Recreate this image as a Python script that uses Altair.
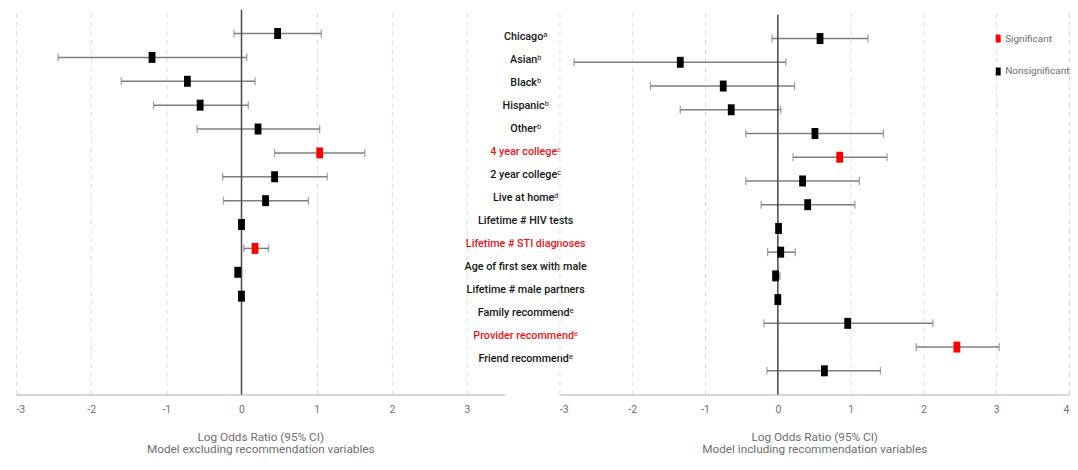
import altair as alt
import pandas as pd

labels = ["Chicagoᵃ", "Asianᵇ", "Blackᵇ", "Hispanicᵇ", "Otherᵇ", "4 year collegeᶜ",
          "2 year collegeᶜ", "Live at homeᵈ", "Lifetime # HIV tests", "Lifetime # STI diagnoses",
          "Age of first sex with male", "Lifetime # male partners", "Family recommendᵉ",
          "Provider recommendᵉ", "Friend recommendᵉ"]
label_sig = [0, 0, 0, 0, 0, 1, 0, 0, 0, 1, 0, 0, 0, 1, 0]

left_est = [0.48, -1.19, -0.72, -0.55, 0.22, 1.04, 0.44, 0.32, 0.00, 0.18, -0.05, 0.00]
left_lo = [-0.10, -2.44, -1.60, -1.17, -0.59, 0.44, -0.25, -0.24, -0.02, 0.03, -0.08, -0.02]
left_hi = [1.06, 0.07, 0.18, 0.09, 1.04, 1.64, 1.14, 0.89, 0.02, 0.36, -0.02, 0.02]
left_sig = [0, 0, 0, 0, 0, 1, 0, 0, 0, 1, 0, 0]

right_est = [0.58, -1.34, -0.75, -0.64, 0.51, 0.85, 0.34, 0.41, 0.01, 0.04, -0.03, 0.00, 0.96, 2.46, 0.64]
right_lo = [-0.08, -2.80, -1.75, -1.34, -0.44, 0.21, -0.44, -0.23, -0.01, -0.14, -0.07, -0.02, -0.19, 1.90, -0.15]
right_hi = [1.24, 0.11, 0.23, 0.04, 1.45, 1.50, 1.12, 1.06, 0.03, 0.24, 0.03, 0.02, 2.13, 3.04, 1.41]
right_sig = [0, 0, 0, 0, 0, 1, 0, 0, 0, 0, 0, 0, 0, 1, 0]

SIGN = ["Significant", "Nonsignificant"]
FONT = "Roboto, Liberation Sans, sans-serif"
GRAY = "#7f7f7f"
TXT = "#6e6e6e"
RECT = "M-0.62,-1L0.62,-1L0.62,1L-0.62,1Z"


def frame(est, lo, hi, sig):
    return pd.DataFrame({
        "row": list(range(1, len(est) + 1)),
        "est": est, "lo": lo, "hi": hi,
        "sig": [SIGN[0] if s else SIGN[1] for s in sig],
    })


df_left = frame(left_est, left_lo, left_hi, left_sig)
df_right = frame(right_est, right_lo, right_hi, right_sig)
df_lab = pd.DataFrame({
    "row": list(range(1, len(labels) + 1)),
    "label": labels,
    "sig": label_sig,
})


def make_color(with_legend):
    if with_legend:
        leg = alt.Legend(title=None, orient="none", legendX=435, legendY=24,
                         symbolType=RECT, symbolSize=64, symbolStrokeWidth=0,
                         symbolOpacity=1, labelFont=FONT, labelFontSize=10,
                         labelColor=TXT, rowPadding=23, labelOffset=2)
    else:
        leg = None
    return alt.Color("sig:N", scale=alt.Scale(domain=SIGN, range=["#ff0000", "#000000"]),
                     legend=leg)


def panel(df, xdom, ydom, title, rule_top, with_legend):
    xax = alt.Axis(values=[v for v in range(-3, 5) if v <= xdom[1]], title=title,
                   grid=True, gridDash=[5, 4], gridColor="#dedede", gridWidth=1,
                   ticks=False, domainColor="#c8c8c8", domainWidth=1.5,
                   labelColor=TXT, labelFont=FONT, labelFontSize=10.5, labelPadding=10,
                   labelExpr="'' + datum.value",
                   titleColor=TXT, titleFont=FONT, titleFontSize=11.8,
                   titleFontWeight="normal", titlePadding=17, titleLineHeight=12)
    xsc = alt.Scale(domain=xdom)

    def y():
        return alt.Y("row:Q", scale=alt.Scale(domain=ydom, reverse=True), axis=None)

    base = alt.Chart(df)
    bars = base.mark_rule(color=GRAY, strokeWidth=1.5).encode(
        x=alt.X("lo:Q", scale=xsc, axis=xax), x2="hi:Q", y=y())
    cap_lo = base.mark_tick(orient="vertical", size=8, thickness=1.3, color=GRAY).encode(
        x="lo:Q", y=y())
    cap_hi = base.mark_tick(orient="vertical", size=8, thickness=1.3, color=GRAY).encode(
        x="hi:Q", y=y())
    zero = base.transform_aggregate(n="count()").mark_rule(
        color="#4a4a4a", strokeWidth=1.5).encode(
        x=alt.datum(0),
        y=alt.YDatum(rule_top, scale=alt.Scale(domain=ydom, reverse=True), axis=None),
        y2=alt.Y2Datum(ydom[1]))
    pts = base.mark_point(shape=RECT, size=121, filled=True, opacity=1, strokeWidth=0).encode(
        x="est:Q", y=y(), color=make_color(with_legend))
    return [bars, cap_lo, cap_hi, zero, pts]


left_layers = panel(df_left, [-3, 3.5], [0.0, 16.12],
                    ["Log Odds Ratio (95% CI)", "Model excluding recommendation variables"], 0.0, False)
label_layer = alt.Chart(df_lab).mark_text(font=FONT, fontSize=10.8, fontWeight=500,
                                          align="center", baseline="middle").encode(
    x=alt.datum(3.78),
    y=alt.Y("row:Q", scale=alt.Scale(domain=[-0.17, 16.56], reverse=True), axis=None),
    text="label:N",
    color=alt.condition("datum.sig == 1", alt.value("#e8141c"), alt.value("#151515")))

left = alt.layer(*left_layers, label_layer).resolve_scale(y="independent").properties(
    width=490, height=386)

right = alt.layer(*panel(df_right, [-3, 4], [-0.22, 16.0],
                         ["Log Odds Ratio (95% CI)", "Model including recommendation variables"], 0.0, True)
                  ).properties(width=511, height=386)

chart = alt.hconcat(left, right, spacing=55, bounds="flush").resolve_scale(
    color="independent").properties(
    padding={"left": 8, "top": 0, "right": 0, "bottom": 0}
).configure_view(strokeWidth=0)

chart.save("out.html", embed_options={"renderer": "svg", "actions": False})
